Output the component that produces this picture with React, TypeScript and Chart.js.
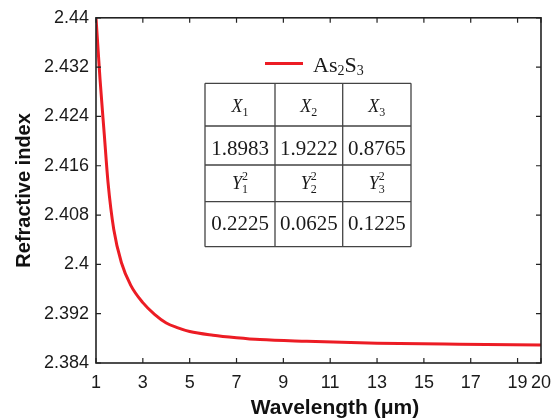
import { useEffect, useRef } from 'react';
import { Chart, registerables } from 'chart.js';

Chart.register(...registerables);

// ---- data ----
const wavelengths = [1.0, 1.171, 1.355, 1.513, 1.757, 2.083, 2.485, 3.0, 3.5, 4.0, 4.5, 5.0, 6.0, 7.0, 8.0, 10.0, 13.0, 16.5, 20.0];
const refractiveIndex = [2.44, 2.4301, 2.421, 2.4133, 2.4057, 2.4003, 2.3966, 2.3938, 2.3919, 2.3905, 2.3897, 2.3891, 2.3885, 2.3881, 2.3878, 2.38753, 2.38722, 2.38705, 2.38694];

const xTicks = [1, 3, 5, 7, 9, 11, 13, 15, 17, 19, 20];
const yTicks = [2.384, 2.392, 2.4, 2.408, 2.416, 2.424, 2.432, 2.44];

const seriesName = 'As2S3';
const legendParts = [
  { t: 'As', sub: false },
  { t: '2', sub: true },
  { t: 'S', sub: false },
  { t: '3', sub: true },
];

const headerX = [
  { base: 'X', sub: '1', sup: '' },
  { base: 'X', sub: '2', sup: '' },
  { base: 'X', sub: '3', sup: '' },
];
const valuesX = ['1.8983', '1.9222', '0.8765'];
const headerY = [
  { base: 'Y', sub: '1', sup: '2' },
  { base: 'Y', sub: '2', sup: '2' },
  { base: 'Y', sub: '3', sup: '2' },
];
const valuesY = ['0.2225', '0.0625', '0.1225'];

const xTitle = 'Wavelength (μm)';
const yTitle = 'Refractive index';

const RED = '#ec1c24';
const SANS = '"Liberation Sans", Arial, sans-serif';
const SERIF = '"Liberation Serif", "Times New Roman", serif';

function drawHeader(ctx: CanvasRenderingContext2D, cx: number, baseline: number, h: { base: string; sub: string; sup: string }) {
  ctx.save();
  ctx.fillStyle = '#1a1a1a';
  ctx.textBaseline = 'alphabetic';
  ctx.textAlign = 'left';
  const bigFont = `italic 18px ${SERIF}`;
  const smallFont = `12px ${SERIF}`;
  ctx.font = bigFont;
  const wb = ctx.measureText(h.base).width;
  ctx.font = smallFont;
  const ws = Math.max(ctx.measureText(h.sub).width, h.sup ? ctx.measureText(h.sup).width : 0);
  const total = wb + ws;
  const x0 = cx - total / 2;
  ctx.font = bigFont;
  ctx.fillText(h.base, x0, baseline);
  ctx.font = smallFont;
  ctx.fillText(h.sub, x0 + wb, baseline + 4);
  if (h.sup) ctx.fillText(h.sup, x0 + wb, baseline - 9);
  ctx.restore();
}

const decorPlugin = {
  id: 'decor',
  afterDraw(chart: any) {
    const ctx: CanvasRenderingContext2D = chart.ctx;
    const { left, right, top, bottom } = chart.chartArea;
    const xs = chart.scales.x;
    const ys = chart.scales.y;
    ctx.save();
    // frame
    ctx.strokeStyle = '#222';
    ctx.lineWidth = 1.6;
    ctx.strokeRect(left, top, right - left, bottom - top);
    // inward ticks
    ctx.lineWidth = 1.2;
    ctx.beginPath();
    const tl = 5;
    for (const v of xTicks) {
      const px = xs.getPixelForValue(v);
      ctx.moveTo(px, bottom);
      ctx.lineTo(px, bottom - tl);
      ctx.moveTo(px, top);
      ctx.lineTo(px, top + tl);
    }
    for (const v of yTicks) {
      const py = ys.getPixelForValue(v);
      ctx.moveTo(left, py);
      ctx.lineTo(left + tl, py);
      ctx.moveTo(right, py);
      ctx.lineTo(right - tl, py);
    }
    ctx.stroke();

    // x axis title
    ctx.fillStyle = '#111';
    ctx.font = `bold 21px ${SANS}`;
    ctx.textAlign = 'center';
    ctx.textBaseline = 'alphabetic';
    ctx.fillText(xTitle, 335, 414);

    // legend
    ctx.strokeStyle = RED;
    ctx.lineWidth = 3;
    ctx.beginPath();
    ctx.moveTo(265, 63.5);
    ctx.lineTo(303, 63.5);
    ctx.stroke();
    let lx = 313;
    ctx.textAlign = 'left';
    ctx.fillStyle = '#1a1a1a';
    for (const p of legendParts) {
      ctx.font = p.sub ? `14px ${SERIF}` : `22px ${SERIF}`;
      ctx.fillText(p.t, lx, p.sub ? 75 : 71.5);
      lx += ctx.measureText(p.t).width;
    }

    // table
    const rows = [83.3, 126, 165, 201.7, 246.7];
    const cols = [205, 275, 342.7, 411];
    ctx.strokeStyle = '#444';
    ctx.lineWidth = 1.3;
    ctx.beginPath();
    for (const r of rows) {
      ctx.moveTo(cols[0], r);
      ctx.lineTo(cols[cols.length - 1], r);
    }
    for (const c of cols) {
      ctx.moveTo(c, rows[0]);
      ctx.lineTo(c, rows[rows.length - 1]);
    }
    ctx.stroke();
    const baselines = [111.5, 155, 189, 230];
    for (let i = 0; i < 3; i++) {
      const cx = (cols[i] + cols[i + 1]) / 2;
      drawHeader(ctx, cx, baselines[0], headerX[i]);
      drawHeader(ctx, cx, baselines[2], headerY[i]);
      ctx.fillStyle = '#1a1a1a';
      ctx.font = `21px ${SERIF}`;
      ctx.textAlign = 'center';
      ctx.fillText(valuesX[i], cx, baselines[1]);
      ctx.fillText(valuesY[i], cx, baselines[3]);
    }
    ctx.restore();
  },
};

export default function App() {
  const ref = useRef<HTMLCanvasElement>(null);
  useEffect(() => {
    if (!ref.current) return;
    const chart = new Chart(ref.current, {
      type: 'line',
      data: {
        datasets: [
          {
            label: seriesName,
            data: wavelengths.map((w, i) => ({ x: w, y: refractiveIndex[i] })),
            borderColor: RED,
            backgroundColor: RED,
            borderWidth: 3,
            pointRadius: 0,
            cubicInterpolationMode: 'monotone',
            fill: false,
          },
        ],
      },
      options: {
        animation: false,
        responsive: false,
        devicePixelRatio: 1,
        layout: { padding: { left: 0, right: 19, top: 14, bottom: 0 } },
        plugins: { legend: { display: false }, tooltip: { enabled: false } },
        scales: {
          x: {
            type: 'linear',
            min: 1,
            max: 20,
            afterBuildTicks: (s: any) => {
              s.ticks = xTicks.map((v) => ({ value: v }));
            },
            afterFit: (s: any) => {
              s.height = 57;
            },
            grid: { display: false, drawTicks: false },
            border: { display: false },
            ticks: {
              autoSkip: false,
              maxRotation: 0,
              padding: 9,
              color: '#1a1a1a',
              font: { family: SANS, size: 18 },
              callback: (v: any) => String(v),
            },
          },
          y: {
            type: 'linear',
            min: 2.384,
            max: 2.44,
            afterBuildTicks: (s: any) => {
              s.ticks = yTicks.map((v) => ({ value: v }));
            },
            afterFit: (s: any) => {
              s.width = 96;
            },
            grid: { display: false, drawTicks: false },
            border: { display: false },
            ticks: {
              padding: 7,
              color: '#1a1a1a',
              font: { family: SANS, size: 18 },
              callback: (v: any) => String(parseFloat(Number(v).toFixed(3))),
            },
            title: {
              display: true,
              text: yTitle,
              color: '#111',
              font: { family: SANS, size: 20, weight: 'bold' },
              padding: { top: 12, bottom: 0 },
            },
          },
        },
      },
      plugins: [decorPlugin],
    } as any);
    return () => chart.destroy();
  }, []);
  return (
    <div style={{ position: 'fixed', left: 0, top: 0, width: 560, height: 420, background: '#fff' }}>
      <canvas ref={ref} width={560} height={420} />
    </div>
  );
}
